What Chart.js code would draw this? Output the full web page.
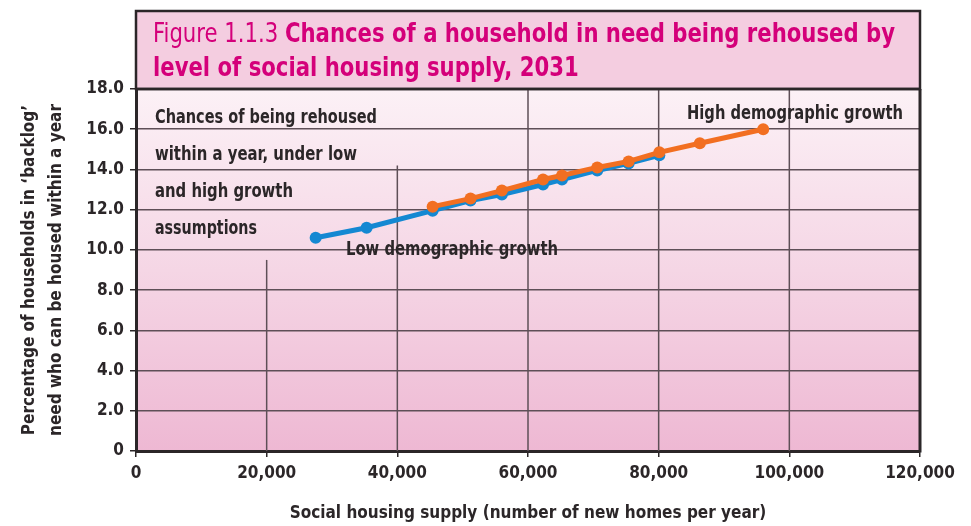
<!DOCTYPE html>
<html>
<head>
<meta charset="utf-8">
<script src="https://cdn.jsdelivr.net/npm/chart.js@4.4.0/dist/chart.umd.min.js"></script>
<style>
  html, body { margin: 0; padding: 0; background: #fff; }
</style>
</head>
<body>
<canvas id="grafico" width="971" height="526"></canvas>
<script>
// dados
const lowSupply  = [27500, 35300, 45400, 51200, 56000, 62300, 65200, 70600, 75400, 80100];
const lowPct     = [10.6, 11.1, 11.95, 12.45, 12.75, 13.25, 13.5, 13.95, 14.3, 14.7];
const highSupply = [45400, 51200, 56000, 62300, 65200, 70600, 75400, 80100, 86300, 96000];
const highPct    = [12.15, 12.55, 12.95, 13.5, 13.7, 14.1, 14.4, 14.85, 15.3, 16.0];
const seriesNames = ['High demographic growth', 'Low demographic growth'];
const xTicks = [0, 20000, 40000, 60000, 80000, 100000, 120000];
const yTicks = [0, 2, 4, 6, 8, 10, 12, 14, 16, 18];

const FONT = '"Liberation Sans Narrow", "DejaVu Sans Condensed", "Open Sans", sans-serif';
const INK = '#2b2628';
const GRID = '#5e4f57';

function pontos(xs, ys) {
  return xs.map((x, i) => ({ x: x, y: ys[i] }));
}

// texto comprimido na horizontal para caber numa largura
function textoLargura(ctx, partes, x, y, largura) {
  let total = 0;
  partes.forEach(p => { ctx.font = p.font; total += ctx.measureText(p.text).width; });
  const sx = largura ? largura / total : 1;
  ctx.save();
  ctx.translate(x, y);
  ctx.scale(sx, 1);
  let cx = 0;
  partes.forEach(p => {
    ctx.font = p.font;
    ctx.fillStyle = p.color;
    ctx.fillText(p.text, cx, 0);
    cx += ctx.measureText(p.text).width;
  });
  ctx.restore();
  return sx;
}

const moldura = {
  id: 'moldura',
  beforeDraw(chart) {
    const { ctx, chartArea: a } = chart;
    ctx.save();
    const g = ctx.createLinearGradient(0, a.top, 0, a.bottom);
    g.addColorStop(0, '#fcf1f6');
    g.addColorStop(0.5, '#f5d6e5');
    g.addColorStop(1, '#eeb8d3');
    ctx.fillStyle = g;
    ctx.fillRect(a.left, a.top, a.right - a.left, a.bottom - a.top);
    // caixa do título
    ctx.fillStyle = '#f4cde0';
    ctx.fillRect(a.left, 11, a.right - a.left, a.top - 11);
    ctx.strokeStyle = INK;
    ctx.lineWidth = 2.5;
    ctx.strokeRect(a.left, 11, a.right - a.left, a.top - 11);
    ctx.restore();
  },
  beforeDatasetsDraw(chart) {
    // linhas verticais (algumas cortadas pelas caixas de texto)
    const { ctx, chartArea: a, scales: { x, y } } = chart;
    const topo = { 20000: 9.5, 40000: 14.2 };
    ctx.save();
    ctx.strokeStyle = GRID;
    ctx.lineWidth = 1.5;
    xTicks.slice(1, -1).forEach(v => {
      const px = x.getPixelForValue(v);
      const t = topo[v] !== undefined ? y.getPixelForValue(topo[v]) : a.top;
      ctx.beginPath();
      ctx.moveTo(px, t);
      ctx.lineTo(px, a.bottom);
      ctx.stroke();
    });
    ctx.restore();
  },
  afterDraw(chart) {
    const { ctx, chartArea: a } = chart;
    ctx.save();
    ctx.strokeStyle = INK;
    ctx.lineWidth = 3;
    ctx.beginPath();
    ctx.moveTo(a.right, a.top);
    ctx.lineTo(a.right, a.bottom + 1.5);
    ctx.stroke();
    ctx.lineWidth = 2.5;
    ctx.beginPath();
    ctx.moveTo(a.left, a.top);
    ctx.lineTo(a.right, a.top);
    ctx.stroke();

    ctx.textBaseline = 'alphabetic';
    const mag = '#d4007a';
    const sx = textoLargura(ctx, [
      { text: 'Figure 1.1.3 ', font: '27px ' + FONT, color: mag },
      { text: 'Chances of a household in need being rehoused by', font: 'bold 27px ' + FONT, color: mag }
    ], 153, 42, 742);
    ctx.save();
    ctx.translate(153, 76);
    ctx.scale(sx, 1);
    ctx.font = 'bold 27px ' + FONT;
    ctx.fillStyle = mag;
    ctx.fillText('level of social housing supply, 2031', 0, 0);
    ctx.restore();

    const f = 'bold 20px ' + FONT;
    const notas = [
      ['Chances of being rehoused', 155, 123, 222],
      ['within a year, under low', 155, 160, 202],
      ['and high growth', 155, 197, 138],
      ['assumptions', 155, 234, 102],
      [seriesNames[1], 346, 255, 212],
      [seriesNames[0], 687, 119, 216]
    ];
    notas.forEach(n => textoLargura(ctx, [{ text: n[0], font: f, color: INK }], n[1], n[2], n[3]));
    ctx.restore();
  }
};

const ctx1 = document.getElementById('grafico');

new Chart(ctx1, {
  type: 'scatter',
  data: {
    datasets: [
      {
        label: seriesNames[0],
        data: pontos(highSupply, highPct),
        showLine: true,
        borderColor: '#f26f21',
        backgroundColor: '#f26f21',
        borderWidth: 5,
        pointRadius: 6,
        pointBorderWidth: 0
      },
      {
        label: seriesNames[1],
        data: pontos(lowSupply, lowPct),
        showLine: true,
        borderColor: '#1488d2',
        backgroundColor: '#1488d2',
        borderWidth: 5,
        pointRadius: 6,
        pointBorderWidth: 0
      }
    ]
  },
  options: {
    responsive: false,
    animation: false,
    devicePixelRatio: 1,
    layout: { padding: { top: 89, right: 51, left: 0, bottom: 0 } },
    plugins: { legend: { display: false }, tooltip: { enabled: false } },
    scales: {
      x: {
        type: 'linear',
        min: 0,
        max: 120000,
        afterBuildTicks: s => { s.ticks = xTicks.map(v => ({ value: v })); },
        afterFit: s => { s.height = 75; },
        ticks: {
          callback: v => v.toLocaleString('en-US'),
          font: { family: FONT, size: 17, weight: 'bold' },
          color: INK,
          padding: 6,
          maxRotation: 0
        },
        grid: { drawOnChartArea: false, drawTicks: true, tickLength: 6, color: INK, lineWidth: 1.5 },
        border: { color: INK, width: 3 },
        title: {
          display: true,
          text: 'Social housing supply (number of new homes per year)',
          font: { family: FONT, size: 17, weight: 'bold' },
          color: INK,
          padding: { top: 0, bottom: 2 }
        }
      },
      y: {
        min: 0,
        max: 18,
        afterBuildTicks: s => { s.ticks = yTicks.map(v => ({ value: v })); },
        afterFit: s => { s.width = 136; },
        ticks: {
          callback: v => v === 0 ? '0' : v.toFixed(1),
          font: { family: FONT, size: 17, weight: 'bold' },
          color: INK,
          padding: 6
        },
        grid: { color: GRID, lineWidth: 1.5, tickLength: 6, tickColor: INK },
        border: { color: INK, width: 3 },
        title: {
          display: true,
          text: ['Percentage of households in \u2018backlog\u2019', 'need who can be housed within a year'],
          font: { family: FONT, size: 17, weight: 'bold', lineHeight: 1.6 },
          color: INK,
          padding: { top: 16, bottom: 0 }
        }
      }
    }
  },
  plugins: [moldura]
});
</script>
</body>
</html>
